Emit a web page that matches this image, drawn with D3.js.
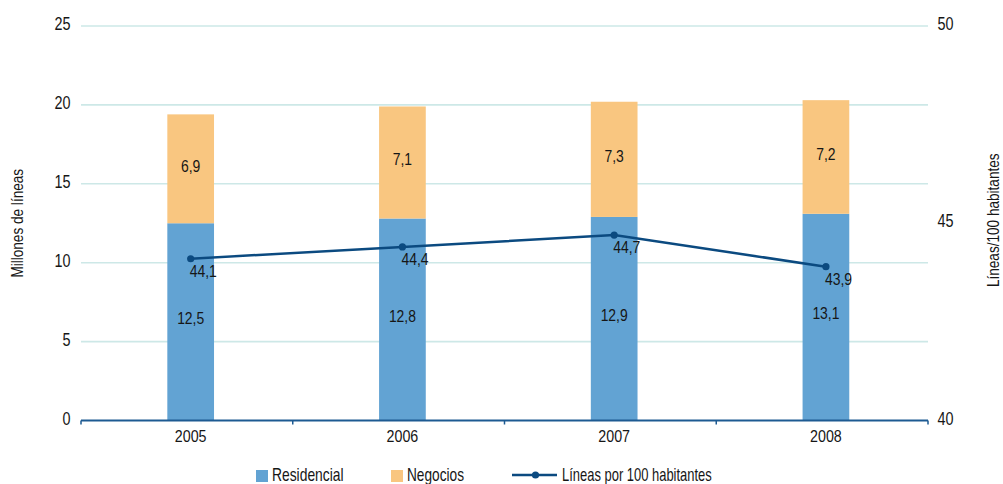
<!DOCTYPE html>
<html>
<head>
<meta charset="utf-8">
<script src="https://cdn.jsdelivr.net/npm/d3@7"></script>
<style>
  html, body { margin: 0; padding: 0; background: #fff; }
  svg text { font-family: "Liberation Sans", Arimo, "DejaVu Sans Condensed", sans-serif; fill: #161616; }
</style>
</head>
<body>
<svg id="chart" width="1003" height="484"></svg>
<script>
const years = ["2005", "2006", "2007", "2008"];
const residencial = [12.5, 12.8, 12.9, 13.1];
const negocios = [6.9, 7.1, 7.3, 7.2];
const lineas100 = [44.1, 44.4, 44.7, 43.9];
const leftTicks = [0, 5, 10, 15, 20, 25];
const rightTicks = [40, 45, 50];
const seriesNames = ["Residencial", "Negocios", "Líneas por 100 habitantes"];
const leftTitle = "Millones de líneas";
const rightTitle = "Líneas/100 habitantes";

const colors = { res: "#62a3d3", neg: "#f9c680", line: "#0b4a80", grid: "#cde8e7", axis: "#1d5a92" };
const fmt = v => String(v).replace(".", ",");
const SX = 0.8; // condensed look

const svg = d3.select("#chart");
const L = 81, R = 928, T = 26, B = 420.5;
const shift = 3.8;

// narrow text helper: g at (x,y) then horizontally compressed text
function ntext(parent, xx, yy, str, size, anchor, rot, sx) {
  const g = parent.append("g").attr("transform", `translate(${xx},${yy})` + (rot ? ` rotate(${rot})` : ""));
  g.append("text").attr("transform", `scale(${sx || SX},1)`)
    .attr("text-anchor", anchor || "start").attr("font-size", size).text(str);
  return g;
}

const x = d3.scaleBand().domain(years).range([L, R]).paddingInner(0).paddingOuter(0);
const yL = d3.scaleLinear().domain([0, 25]).range([B, T]);
const yR = d3.scaleLinear().domain([40, 50]).range([B, T]);
const cx = d => x(d) + x.bandwidth() / 2 + shift;
const barW = 46.7;

// gridlines
svg.append("g").selectAll("line").data(leftTicks.filter(t => t > 0)).join("line")
  .attr("x1", L).attr("x2", R)
  .attr("y1", d => yL(d)).attr("y2", d => yL(d))
  .attr("stroke", colors.grid).attr("stroke-width", 1.6);

// tick labels
const tl = svg.append("g");
leftTicks.forEach(t => ntext(tl, 70.5, yL(t) + 4, String(t), 18, "end"));
rightTicks.forEach(t => ntext(tl, 937.5, yR(t) + 4, String(t), 18, "start"));

// axis titles
ntext(svg, 23, (T + B) / 2, leftTitle, 17, "middle", -90);
ntext(svg, 999, (T + B) / 2 - 3, rightTitle, 17, "middle", -90);

// bars
const bars = svg.append("g");
bars.selectAll("rect.res").data(years).join("rect").attr("class", "res")
  .attr("x", d => cx(d) - barW / 2).attr("width", barW)
  .attr("y", (d, i) => yL(residencial[i])).attr("height", (d, i) => yL(0) - yL(residencial[i]))
  .attr("fill", colors.res);
bars.selectAll("rect.neg").data(years).join("rect").attr("class", "neg")
  .attr("x", d => cx(d) - barW / 2).attr("width", barW)
  .attr("y", (d, i) => yL(residencial[i] + negocios[i]))
  .attr("height", (d, i) => yL(residencial[i]) - yL(residencial[i] + negocios[i]))
  .attr("fill", colors.neg);

// bar labels
const bl = svg.append("g");
years.forEach((d, i) => {
  ntext(bl, cx(d), (yL(0) + yL(residencial[i])) / 2 + 2, fmt(residencial[i]), 17, "middle", 0, 0.82);
  ntext(bl, cx(d), (yL(residencial[i]) + yL(residencial[i] + negocios[i])) / 2 + 3, fmt(negocios[i]), 17, "middle", 0, 0.82);
});

// x axis
const axisG = svg.append("g");
axisG.append("line").attr("x1", L).attr("x2", R).attr("y1", B).attr("y2", B)
  .attr("stroke", colors.axis).attr("stroke-width", 2);
const edges = years.map(d => x(d)).concat([R]);
axisG.selectAll("line.tk").data(edges).join("line").attr("class", "tk")
  .attr("x1", d => d).attr("x2", d => d).attr("y1", B).attr("y2", B + 4)
  .attr("stroke", colors.axis).attr("stroke-width", 1.5);
years.forEach(d => ntext(axisG, cx(d), 442, d, 17, "middle", 0, 0.84));

// line
const lineGen = d3.line().x((d, i) => cx(years[i])).y(d => yR(d));
svg.append("path").datum(lineas100).attr("d", lineGen)
  .attr("fill", "none").attr("stroke", colors.line).attr("stroke-width", 2.5);
svg.append("g").selectAll("circle").data(lineas100).join("circle")
  .attr("cx", (d, i) => cx(years[i])).attr("cy", d => yR(d)).attr("r", 3.6)
  .attr("fill", colors.line);
const ll = svg.append("g");
lineas100.forEach((d, i) => ntext(ll, cx(years[i]) - 1, yR(d) + 18, fmt(d), 17, "start", 0, 0.82));

// legend
const lg = svg.append("g");
lg.append("rect").attr("x", 256).attr("y", 470).attr("width", 12).attr("height", 12).attr("fill", colors.res);
ntext(lg, 272, 481, seriesNames[0], 18, "start", 0, 0.77);
lg.append("rect").attr("x", 391).attr("y", 470).attr("width", 12).attr("height", 12).attr("fill", colors.neg);
ntext(lg, 407, 481, seriesNames[1], 18, "start", 0, 0.76);
lg.append("line").attr("x1", 512).attr("x2", 557).attr("y1", 475).attr("y2", 475)
  .attr("stroke", colors.line).attr("stroke-width", 2.5);
lg.append("circle").attr("cx", 535.5).attr("cy", 475).attr("r", 3.6).attr("fill", colors.line);
ntext(lg, 562, 481, seriesNames[2], 18, "start", 0, 0.72);
</script>
</body>
</html>
